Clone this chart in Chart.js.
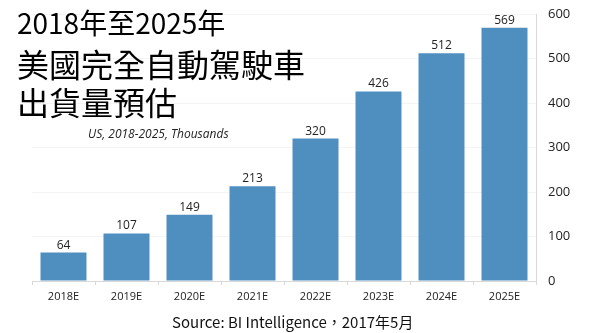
<!DOCTYPE html>
<html>
<head>
<meta charset="utf-8">
<script src="https://cdn.jsdelivr.net/npm/chart.js@4"></script>
<style>
  html, body { margin: 0; padding: 0; background: #fff; }
  #wrap { position: relative; width: 605px; height: 333px; overflow: hidden; }
  #shipChart { position: absolute; left: 0; top: 0; }
  .txt { position: absolute; white-space: nowrap; color: #000; font-family: "Noto Sans CJK TC", "Noto Sans", sans-serif; }
  #t1 { left: 17px; top: 5px; font-size: 28px; line-height: 34px; }
  #t2 { left: 17px; top: 44px; font-size: 32px; line-height: 38px; }
  #t3 { left: 17px; top: 82px; font-size: 32px; line-height: 38px; }
  #sub { left: 88px; top: 125px; font-family: "Open Sans", sans-serif; font-style: italic; font-size: 12px; color: #222; }
  #src { left: 172px; top: 311px; font-size: 15px; color: #111; }
</style>
</head>
<body>
<div id="wrap">
  <canvas id="shipChart" width="605" height="333"></canvas>
  <div class="txt" id="t1">2018年至2025年</div>
  <div class="txt" id="t2">美國完全自動駕駛車</div>
  <div class="txt" id="t3">出貨量預估</div>
  <div class="txt" id="sub">US, 2018-2025, Thousands</div>
  <div class="txt" id="src">Source: BI Intelligence，2017年5月</div>
</div>
<script>
/* --------------- Data --------------------- */
const years = ["2018E", "2019E", "2020E", "2021E", "2022E", "2023E", "2024E", "2025E"];
const shipments = [64, 107, 149, 213, 320, 426, 512, 569];
const yTicks = [0, 100, 200, 300, 400, 500, 600];

const barColor = "#4f8fc0";

/* --------------- Value labels above bars --------------------- */
const valueLabels = {
  id: "valueLabels",
  afterDatasetsDraw(chart) {
    const ctx = chart.ctx;
    const meta = chart.getDatasetMeta(0);
    ctx.save();
    ctx.font = "12px 'Open Sans', sans-serif";
    ctx.fillStyle = "#222";
    ctx.textAlign = "center";
    ctx.textBaseline = "alphabetic";
    meta.data.forEach((bar, i) => {
      ctx.fillText(shipments[i], bar.x, bar.y - 4);
    });
    ctx.restore();
  },
};

/* --------------- Chart --------------------- */
const shipChart = new Chart(document.getElementById("shipChart"), {
  type: "bar",
  plugins: [valueLabels],
  data: {
    labels: years,
    datasets: [
      {
        data: shipments,
        backgroundColor: barColor,
        categoryPercentage: 1,
        barPercentage: 0.73,
      },
    ],
  },
  options: {
    responsive: false,
    animation: false,
    layout: { padding: { left: 32, top: 14, right: 0, bottom: 0 } },
    plugins: {
      legend: { display: false },
      tooltip: { enabled: false },
    },
    scales: {
      x: {
        grid: {
          drawOnChartArea: false,
          color: "#d9d9d9",
          tickLength: 4,
        },
        border: { color: "#d9d9d9" },
        ticks: {
          color: "#222",
          padding: 5,
          font: { family: "'Open Sans', sans-serif", size: 11 },
        },
        afterFit: (scale) => { scale.height = 52; },
      },
      y: {
        position: "right",
        min: 0,
        max: 600,
        afterBuildTicks: (scale) => { scale.ticks = yTicks.map((v) => ({ value: v })); },
        grid: { color: "#f4f4f4", drawTicks: false },
        border: { color: "#d9d9d9" },
        ticks: {
          color: "#222",
          padding: 12,
          font: { family: "'Open Sans', sans-serif", size: 13 },
        },
        afterFit: (scale) => {
          scale.width = 69;
          scale.paddingTop = 0;
          scale.paddingBottom = 0;
        },
      },
    },
  },
});
</script>
</body>
</html>
